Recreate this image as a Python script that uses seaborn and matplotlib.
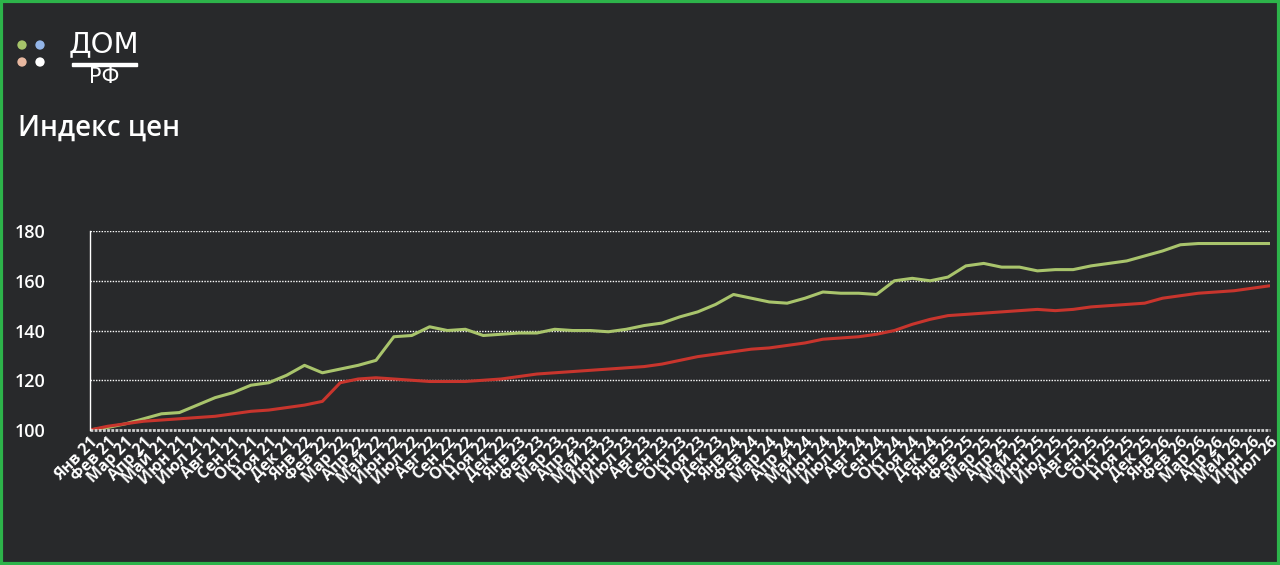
import numpy as np
import pandas as pd
import matplotlib
matplotlib.use("Agg")
import matplotlib.pyplot as plt
import seaborn as sns

months = ['Янв', 'Фев', 'Мар', 'Апр', 'Май', 'Июн', 'Июл', 'Авг', 'Сен', 'Окт', 'Ноя', 'Дек']
labels = [f'{m} {y}' for y in range(21, 27) for m in months][:67]

green = [100, 101, 102.5, 104.5, 106.5, 107, 110, 113, 115, 118, 119, 122,
         126, 123, 124.5, 126, 128, 137.5, 138, 141.5, 140, 140.5, 138, 138.5,
         139, 139, 140.5, 140, 140, 139.5, 140.5, 142, 143, 145.5, 147.5, 150.5,
         154.5, 153, 151.5, 151, 153, 155.5, 155, 155, 154.5, 160, 161, 160,
         161.5, 166, 167, 165.5, 165.5, 164, 164.5, 164.5, 166, 167, 168, 170,
         172, 174.5, 175, 175, 175, 175, 175]
red = [100, 101.5, 102.5, 103.5, 104, 104.5, 105, 105.5, 106.5, 107.5, 108, 109,
       110, 111.5, 119, 120.5, 121, 120.5, 120, 119.5, 119.5, 119.5, 120, 120.5,
       121.5, 122.5, 123, 123.5, 124, 124.5, 125, 125.5, 126.5, 128, 129.5, 130.5,
       131.5, 132.5, 133, 134, 135, 136.5, 137, 137.5, 138.5, 140, 142.5, 144.5,
       146, 146.5, 147, 147.5, 148, 148.5, 148, 148.5, 149.5, 150, 150.5, 151,
       153, 154, 155, 155.5, 156, 157, 158]

bg = '#28292b'
df = pd.DataFrame({'x': np.arange(len(labels)), 'green': green, 'red': red})

sns.set_style('dark')
plt.rcParams['font.family'] = ['Open Sans', 'DejaVu Sans']
fig = plt.figure(figsize=(12.8, 5.65), dpi=100, facecolor=bg)
ax = fig.add_axes([0.0703, 0.239, 0.9217, 0.352])
ax.set_facecolor(bg)

sns.lineplot(data=df, x='x', y='green', color='#a9c46c', lw=2.2, ax=ax)
sns.lineplot(data=df, x='x', y='red', color='#c8352d', lw=2.2, ax=ax)

ax.set_xlim(0, len(labels) - 1)
ax.set_ylim(100, 180)
ax.set_yticks([100, 120, 140, 160, 180])
ax.yaxis.grid(True, color='white', linestyle=(0, (1, 1)), lw=1)
ax.xaxis.grid(False)
ax.set_xticks(df['x'])
ax.set_xticklabels(labels, rotation=45, ha='right', rotation_mode='anchor',
                   fontsize=11.5, color='white', fontweight='bold')
for t in ax.get_yticklabels():
    t.set_color('white')
    t.set_fontsize(13)
    t.set_fontweight('semibold')
    t.set_horizontalalignment('left')
ax.tick_params(axis='y', length=0, pad=54)
ax.tick_params(axis='x', length=0, pad=3)
for s in ['top', 'right', 'bottom']:
    ax.spines[s].set_visible(False)
ax.spines['left'].set_color('white')
ax.spines['left'].set_linewidth(1)
ax.axhline(100, color='#cccccc', lw=2, linestyle=(0, (1, 0.5)), clip_on=False)
ax.set_xlabel('')
ax.set_ylabel('')

# border and logo
fig.patches.append(plt.Rectangle((0.001, 0.002), 0.998, 0.996, transform=fig.transFigure,
                                 fill=False, edgecolor='#2db34a', lw=3))
lax = fig.add_axes([0, 0, 1, 1], facecolor='none')
lax.set_xlim(0, 1280)
lax.set_ylim(565, 0)
lax.axis('off')
lax.scatter([22, 40, 22, 40], [45, 45, 62, 62], s=45,
            c=['#a6c46a', '#93b5e8', '#e8b8a0', '#ffffff'], linewidths=0)
lax.text(104, 44, 'ДОМ', color='white', fontsize=21, va='center', ha='center',
         family='DejaVu Sans')
lax.add_patch(plt.Rectangle((72, 63), 65, 3, color='white'))
lax.text(104, 77, 'РФ', color='white', fontsize=15, va='center', ha='center',
         family='DejaVu Sans')
fig.text(18 / 1280, 1 - 128 / 565, 'Индекс цен', color='white', fontsize=20,
         fontweight='semibold', va='center')

fig.savefig('out.png', dpi=100, facecolor=bg)
